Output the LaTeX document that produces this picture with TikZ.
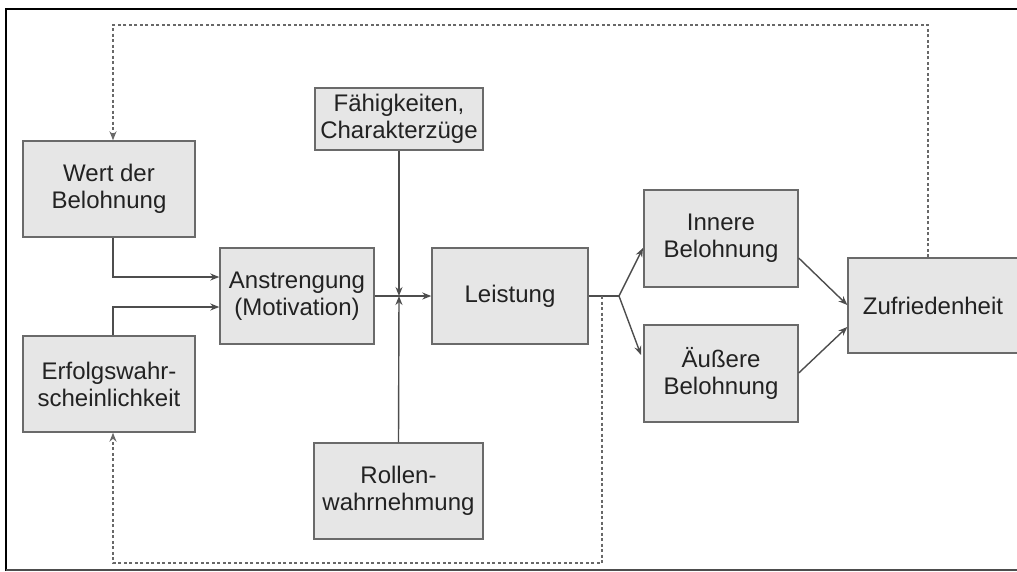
\documentclass[tikz,border=0pt]{standalone}
\usepackage{fontspec}
\setmainfont{Liberation Sans}
\usetikzlibrary{arrows.meta}
\definecolor{linec}{HTML}{4D4D4D}
\definecolor{boxbg}{HTML}{E6E6E6}
\definecolor{boxrule}{HTML}{6A6A6A}
\definecolor{txt}{HTML}{222222}
\tikzset{
  box/.style={draw=boxrule,line width=1.4pt,fill=boxbg,inner sep=0pt,align=center,
    text=txt,font=\fontsize{24}{27}\selectfont,minimum width=154pt,minimum height=96pt},
  flow/.style={-{Stealth[length=9pt,width=7pt]},line width=1.4pt,draw=linec},
  link/.style={line width=1.4pt,draw=linec},
  fback/.style={flow,dash pattern=on 3pt off 2.5pt,line width=1.4pt,draw=linec!85},
  frame/.style={line width=2.2pt,draw=black},
}
\begin{document}
\begin{tikzpicture}[x=1pt,y=-1pt]
  \useasboundingbox (0,0) rectangle (1017,571);
  % frame
  \draw[frame] (6,571) -- (6,9) -- (1017,9);
  \draw[line width=1.5pt,draw=linec] (6,570) -- (1017,570);
  % boxes
  \node[box,minimum width=172pt](wert) at (109,189) {Wert der\\Belohnung};
  \node[box,minimum width=172pt](erfolg) at (109,384) {Erfolgswahr-\\scheinlichkeit};
  \node[box](anstr) at (297,296) {Anstrengung\\(Motivation)};
  \node[box,minimum width=156pt](leist) at (510,296) {Leistung};
  \node[box,minimum width=168pt,minimum height=62pt](faeh) at (399,119) {F\"ahigkeiten,\\Charakterz\"uge};
  \node[box,minimum width=169pt](rolle) at (398.5,491) {Rollen-\\wahrnehmung};
  \node[box,minimum height=97pt](inner) at (721,238.5) {Innere\\Belohnung};
  \node[box,minimum height=97pt](aeuss) at (721,373.5) {\"Au\ss ere\\Belohnung};
  \node[box,minimum width=170pt,minimum height=95pt](zufr) at (933,305.5) {Zufriedenheit};
  % junctions
  \coordinate (cross) at (399,296);
  \coordinate (tap) at (602,296);
  \coordinate (fork) at (619,296);
  % connectors
  \draw[flow] (wert.south -| 113,0) |- (anstr.west |- 0,277);
  \draw[flow] (erfolg.north -| 113,0) |- (anstr.west |- 0,307);
  \draw[flow] (anstr.east) -- (leist.west);
  \draw[flow] (faeh.south) -- (cross);
  \draw[flow] (rolle.north) -- (cross);
  \draw[link] (leist.east) -- (fork);
  \draw[flow] (fork) -- (643,248);
  \draw[flow] (fork) -- (641,355);
  \draw[flow] (inner.east |- 0,258) -- (zufr.west |- 0,305);
  \draw[flow] (aeuss.east |- 0,373) -- (zufr.west |- 0,327);
  % feedback loops
  \draw[fback] (zufr.north -| 928,0) -- (928,25) -| (wert.north -| 113,0);
  \draw[fback] (tap) -- (602,563) -| (erfolg.south -| 113,0);
\end{tikzpicture}
\end{document}
